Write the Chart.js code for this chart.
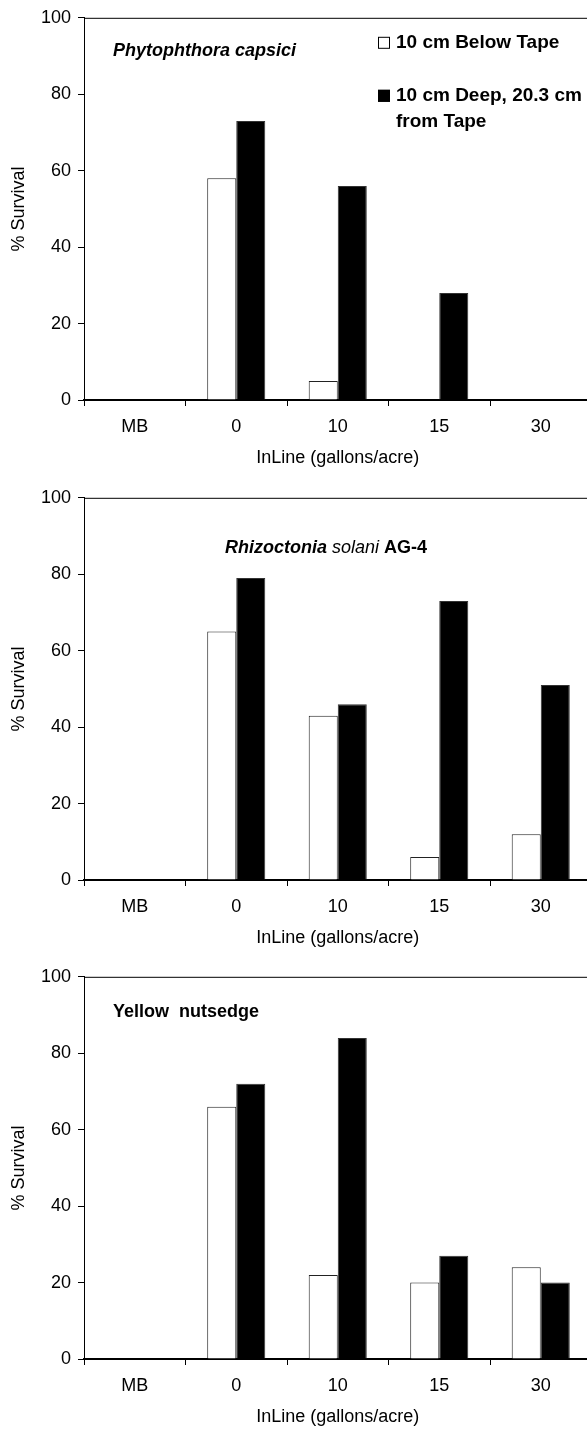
<!DOCTYPE html>
<html>
<head>
<meta charset="utf-8">
<script src="https://cdn.jsdelivr.net/npm/chart.js@4"></script>
<style>
  html, body { margin: 0; padding: 0; background: #fff; }
  body { width: 587px; height: 1433px; overflow: hidden; position: relative; }
  canvas { position: absolute; left: 0; }
</style>
</head>
<body>
<canvas id="panel1" width="595" height="480" style="top:0px"></canvas>
<canvas id="panel2" width="595" height="480" style="top:480px"></canvas>
<canvas id="panel3" width="595" height="480" style="top:959px"></canvas>
<script>
const categories = ['MB', '0', '10', '15', '30'];
const legendLabels = ['10 cm Below Tape', '10 cm Deep, 20.3 cm from Tape'];

// % survival (null = no bar drawn for MB)
const phytoBelow = [null, 58, 5, 0, 0];
const phytoDeep = [null, 73, 56, 28, 0];
const rhizoBelow = [null, 65, 43, 6, 12];
const rhizoDeep = [null, 79, 46, 73, 51];
const nutsedgeBelow = [null, 66, 22, 20, 24];
const nutsedgeDeep = [null, 72, 84, 27, 20];

const yMax = 100;
const yStep = 20;

const FONT = "'Liberation Sans', Arial, sans-serif";

// top/right frame line, panel title and the small legend
const panelDecor = {
    id: 'panelDecor',
    afterDraw(chart, args, opts) {
        const ctx = chart.ctx;
        const a = chart.chartArea;
        ctx.save();
        ctx.strokeStyle = '#000';
        ctx.lineWidth = 1;
        ctx.beginPath();
        ctx.moveTo(a.left, a.top + 0.5);
        ctx.lineTo(a.right, a.top + 0.5);
        ctx.lineTo(a.right, a.bottom);
        ctx.stroke();

        ctx.fillStyle = '#000';
        ctx.textBaseline = 'middle';
        ctx.textAlign = 'left';
        let x = opts.titleX;
        const y = a.top + opts.titleDy;
        for (const seg of opts.title) {
            ctx.font = seg.font;
            ctx.fillText(seg.text, x, y);
            x += ctx.measureText(seg.text).width;
        }

        if (opts.legend) {
            const ds = chart.data.datasets;
            ctx.font = 'bold 19px ' + FONT;
            const rows = [
                { ds: ds[0], lines: ['10 cm Below Tape'], dy: 25 },
                { ds: ds[1], lines: ['10 cm Deep, 20.3 cm', 'from Tape'], dy: 78 }
            ];
            for (const r of rows) {
                const cy = a.top + r.dy;
                ctx.fillStyle = r.ds.backgroundColor;
                ctx.fillRect(378, cy - 6, 12, 12);
                ctx.strokeStyle = '#000';
                ctx.strokeRect(378.5, cy - 5.5, 11, 11);
                ctx.fillStyle = '#000';
                r.lines.forEach((t, i) => ctx.fillText(t, 396, cy + i * 26));
            }
        }
        ctx.restore();
    }
};

function createPanel(id, below, deep, decor) {
    const ctx = document.getElementById(id).getContext('2d');
    return new Chart(ctx, {
        type: 'bar',
        data: {
            labels: categories,
            datasets: [{
                label: legendLabels[0],
                data: below,
                backgroundColor: '#ffffff',
                borderColor: '#222',
                borderWidth: 1
            }, {
                label: legendLabels[1],
                data: deep,
                backgroundColor: '#000000',
                borderColor: '#333',
                borderWidth: 1
            }]
        },
        options: {
            responsive: false,
            animation: false,
            categoryPercentage: 0.572,
            barPercentage: 1.0,
            layout: { padding: { top: 14, right: 3.5, left: 0, bottom: 0 } },
            plugins: {
                legend: { display: false },
                tooltip: { enabled: false },
                panelDecor: decor
            },
            scales: {
                x: {
                    afterFit: s => { s.height = 80; },
                    border: { display: true, color: '#000', width: 2 },
                    grid: { drawOnChartArea: false, drawTicks: true, tickLength: 6, color: '#000', offset: true },
                    ticks: { color: '#000', padding: 10, font: { family: FONT, size: 18 } },
                    title: {
                        display: true, text: 'InLine (gallons/acre)', color: '#000',
                        font: { family: FONT, size: 18 }, padding: { top: 0, bottom: 11 }
                    }
                },
                y: {
                    min: 0,
                    max: yMax,
                    afterFit: s => { s.width = 84; },
                    border: { display: true, color: '#000', width: 1 },
                    grid: { drawOnChartArea: false, drawTicks: true, tickLength: 6, color: '#000' },
                    ticks: { stepSize: yStep, color: '#000', padding: 7, font: { family: FONT, size: 18 } },
                    title: {
                        display: true, text: '% Survival', color: '#000',
                        font: { family: FONT, size: 18 }, padding: { top: 8, bottom: 0 }
                    }
                }
            }
        },
        plugins: [panelDecor]
    });
}

createPanel('panel1', phytoBelow, phytoDeep, {
    titleX: 113, titleDy: 33, legend: true,
    title: [{ text: 'Phytophthora capsici', font: 'italic bold 18px ' + FONT }]
});
createPanel('panel2', rhizoBelow, rhizoDeep, {
    titleX: 225, titleDy: 50, legend: false,
    title: [
        { text: 'Rhizoctonia', font: 'italic bold 18px ' + FONT },
        { text: ' solani ', font: 'italic 18px ' + FONT },
        { text: 'AG-4', font: 'bold 18px ' + FONT }
    ]
});
createPanel('panel3', nutsedgeBelow, nutsedgeDeep, {
    titleX: 113, titleDy: 35, legend: false,
    title: [{ text: 'Yellow  nutsedge', font: 'bold 18px ' + FONT }]
});
</script>
</body>
</html>
